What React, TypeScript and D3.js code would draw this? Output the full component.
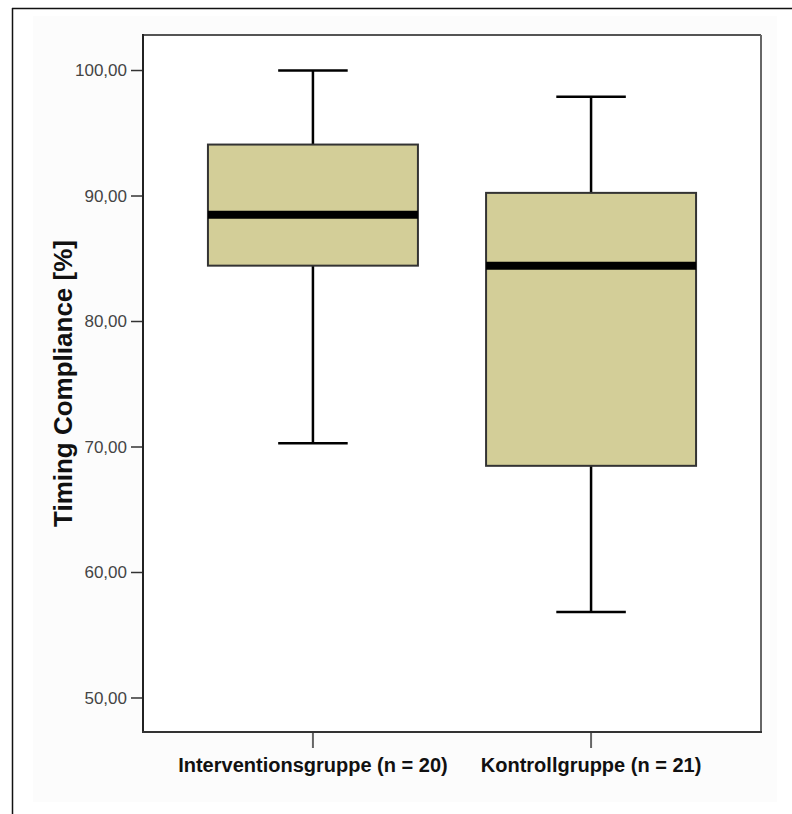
import React, { useEffect, useRef } from 'react';
import * as d3 from 'd3';

// groups and box statistics
const groups = ['Interventionsgruppe (n = 20)', 'Kontrollgruppe (n = 21)'];
const whiskerLow = [70.3, 56.85];
const q1 = [84.45, 68.5];
const median = [88.5, 84.45];
const q3 = [94.1, 90.25];
const whiskerHigh = [100, 97.9];
const yTicks = [50, 60, 70, 80, 90, 100];

const width = 792, height = 814;
const plot = { left: 143, right: 761, top: 35, bottom: 732 };

const de = d3.formatLocale({ decimal: ',', thousands: '.', grouping: [3], currency: ['', ' €'] });
const fmt = de.format('.2f');

function drawChart(svg: d3.Selection<SVGSVGElement, unknown, null, undefined>) {
  svg.selectAll('*').remove();

  // outer frame of the output window
  svg.append('rect').attr('x', 33).attr('y', 16).attr('width', 744).attr('height', 786).attr('fill', '#fcfcfc');
  svg.append('line').attr('x1', 12).attr('x2', width).attr('y1', 8.5).attr('y2', 8.5).attr('stroke', '#111').attr('stroke-width', 1.5);
  svg.append('line').attr('x1', 12.5).attr('x2', 12.5).attr('y1', 8).attr('y2', height).attr('stroke', '#111').attr('stroke-width', 1.5);

  const y = d3.scaleLinear().domain([47.29, 102.83]).range([plot.bottom, plot.top]);
  const x = d3.scalePoint<string>().domain(groups).range([plot.left, plot.right]).padding(0.611);
  const step = x.step();
  const boxW = step * 0.755;
  const capW = step * 0.25;

  svg.append('rect')
    .attr('x', plot.left).attr('y', plot.top)
    .attr('width', plot.right - plot.left).attr('height', plot.bottom - plot.top)
    .attr('fill', '#ffffff');

  // y axis ticks + labels
  const yAxis = svg.append('g');
  yAxis.selectAll('line').data(yTicks).join('line')
    .attr('x1', plot.left - 12).attr('x2', plot.left)
    .attr('y1', d => y(d)).attr('y2', d => y(d))
    .attr('stroke', '#333').attr('stroke-width', 1.5);
  yAxis.selectAll('text').data(yTicks).join('text')
    .attr('x', plot.left - 16).attr('y', d => y(d))
    .attr('dy', '0.35em')
    .attr('text-anchor', 'end')
    .attr('font-family', 'Liberation Sans, Arial, sans-serif')
    .attr('font-size', 17)
    .attr('fill', '#444')
    .text(d => fmt(d));

  // x axis ticks + labels
  const xAxis = svg.append('g');
  xAxis.selectAll('line').data(groups).join('line')
    .attr('x1', d => x(d)!).attr('x2', d => x(d)!)
    .attr('y1', plot.bottom).attr('y2', plot.bottom + 16)
    .attr('stroke', '#666').attr('stroke-width', 2);
  xAxis.selectAll('text').data(groups).join('text')
    .attr('x', d => x(d)!).attr('y', plot.bottom + 40)
    .attr('text-anchor', 'middle')
    .attr('font-family', 'Liberation Sans, Arial, sans-serif')
    .attr('font-weight', 'bold')
    .attr('font-size', 20)
    .attr('fill', '#111')
    .text(d => d);

  // y title
  svg.append('text')
    .attr('transform', `translate(72, ${(plot.top + plot.bottom) / 2}) rotate(-90)`)
    .attr('text-anchor', 'middle')
    .attr('font-family', 'Liberation Sans, Arial, sans-serif')
    .attr('font-weight', 'bold')
    .attr('font-size', 26)
    .attr('fill', '#111')
    .text('Timing Compliance [%]');

  // boxes
  const boxes = svg.append('g').selectAll('g').data(groups).join('g');
  boxes.append('line')
    .attr('x1', d => x(d)!).attr('x2', d => x(d)!)
    .attr('y1', (d, i) => y(whiskerHigh[i])).attr('y2', (d, i) => y(whiskerLow[i]))
    .attr('stroke', '#000').attr('stroke-width', 2.5);
  boxes.append('line')
    .attr('x1', d => x(d)! - capW / 2).attr('x2', d => x(d)! + capW / 2)
    .attr('y1', (d, i) => y(whiskerHigh[i])).attr('y2', (d, i) => y(whiskerHigh[i]))
    .attr('stroke', '#000').attr('stroke-width', 2.5);
  boxes.append('line')
    .attr('x1', d => x(d)! - capW / 2).attr('x2', d => x(d)! + capW / 2)
    .attr('y1', (d, i) => y(whiskerLow[i])).attr('y2', (d, i) => y(whiskerLow[i]))
    .attr('stroke', '#000').attr('stroke-width', 2.5);
  boxes.append('rect')
    .attr('x', d => x(d)! - boxW / 2)
    .attr('y', (d, i) => y(q3[i]))
    .attr('width', boxW)
    .attr('height', (d, i) => y(q1[i]) - y(q3[i]))
    .attr('fill', '#d3ce98')
    .attr('stroke', '#333').attr('stroke-width', 2);
  boxes.append('line')
    .attr('x1', d => x(d)! - boxW / 2).attr('x2', d => x(d)! + boxW / 2)
    .attr('y1', (d, i) => y(median[i])).attr('y2', (d, i) => y(median[i]))
    .attr('stroke', '#000').attr('stroke-width', 8);

  // plot frame: dark left/bottom, grey top/right
  svg.append('line').attr('x1', plot.left).attr('x2', plot.right).attr('y1', plot.top).attr('y2', plot.top).attr('stroke', '#555').attr('stroke-width', 2);
  svg.append('line').attr('x1', plot.right).attr('x2', plot.right).attr('y1', plot.top).attr('y2', plot.bottom).attr('stroke', '#666').attr('stroke-width', 2);
  svg.append('line').attr('x1', plot.left).attr('x2', plot.left).attr('y1', plot.top - 1).attr('y2', plot.bottom + 1).attr('stroke', '#222').attr('stroke-width', 2);
  svg.append('line').attr('x1', plot.left - 1).attr('x2', plot.right + 1).attr('y1', plot.bottom).attr('y2', plot.bottom).attr('stroke', '#333').attr('stroke-width', 2);
}

export default function App() {
  const ref = useRef<SVGSVGElement>(null);

  useEffect(() => {
    if (ref.current) drawChart(d3.select(ref.current));
  }, []);

  return (
    <svg
      ref={ref}
      width={width}
      height={height}
      style={{ position: 'absolute', left: 0, top: 0, background: '#fff' }}
    />
  );
}
